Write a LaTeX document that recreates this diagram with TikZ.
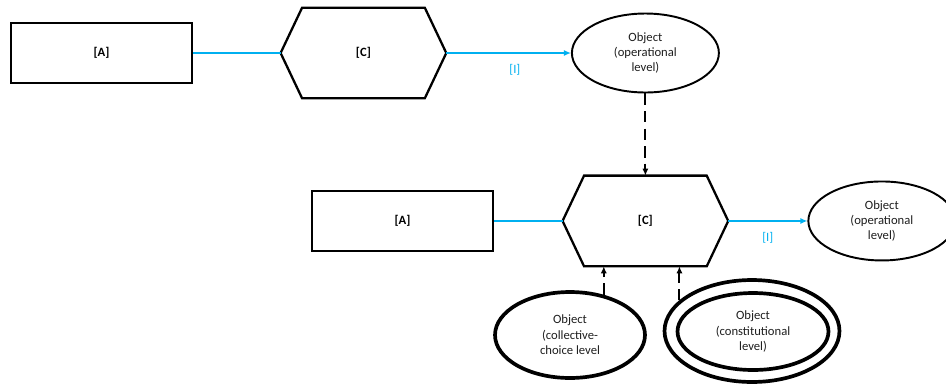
\documentclass[tikz,border=0pt]{standalone}
\usepackage{fontspec}
\setmainfont{Carlito}
\usepackage{xcolor}
\usepackage{tikz}
\usetikzlibrary{shapes.geometric, arrows.meta, positioning, calc}

\definecolor{linkblue}{RGB}{0,176,240}
\definecolor{objtext}{RGB}{30,30,30}

% hexagon outline drawn round a plain rectangle node
\newcommand{\hexoutline}[1]{%
  \draw[hexline] ($(#1.north west)+(21.5,0)$) -- ($(#1.north east)+(-21.5,0)$) -- (#1.east)
    -- ($(#1.south east)+(-21.5,0)$) -- ($(#1.south west)+(21.5,0)$) -- (#1.west) -- cycle;}

\begin{document}
\begin{tikzpicture}[x=0.02cm, y=-0.02cm, font=\fontsize{7.2pt}{8.8pt}\selectfont]
    \tikzstyle{actor} = [rectangle, draw, line width=1.3pt, minimum width=3.62cm, minimum height=1.2cm, font=\fontsize{7.2pt}{8.8pt}\selectfont\bfseries]
    \tikzstyle{hexcore} = [rectangle, minimum width=3.3cm, minimum height=1.8cm, font=\fontsize{7.2pt}{8.8pt}\selectfont\bfseries]
    \tikzstyle{hexline} = [draw, line width=1.3pt, line join=miter]
    \tikzstyle{object} = [ellipse, draw, line width=1.1pt, minimum width=2.94cm, minimum height=1.58cm, inner sep=0pt, align=center, text=objtext]
    \tikzstyle{heavyobject} = [object, line width=2.1pt]
    \tikzstyle{flow} = [draw, linkblue, line width=1.2pt]
    \tikzstyle{flowarrow} = [flow, -{Latex[length=4pt, width=3.5pt]}]
    \tikzstyle{ruleline} = [draw, line width=1.2pt, dash pattern=on 6.5pt off 3.5pt, -{Latex[length=4pt, width=3.5pt]}]
    \tikzstyle{tag} = [below=2.5pt, text=linkblue, font=\fontsize{7.2pt}{8.8pt}\selectfont]

    \useasboundingbox (0,0) rectangle (946,383);

    % operational situation
    \node [actor] at (101.5,53) (a1) {[A]};
    \node [hexcore, right of=a1, node distance=5.24cm] (c1) {[C]};
    \node [object, right of=c1, node distance=5.64cm] (e1) {Object\\(operational\\level)};
    \hexoutline{c1}

    % collective-choice situation
    \node [hexcore, below of=e1, node distance=3.36cm] (c2) {[C]};
    \node [actor, left of=c2, node distance=4.86cm] (a2) {[A]};
    \node [object, right of=c2, node distance=4.73cm] (e2) {Object\\(operational\\level)};
    \node [heavyobject, minimum width=3cm, minimum height=1.72cm] at (570,335) (e3) {Object\\(collective-\\choice level};
    \node [heavyobject, minimum width=3.5cm, minimum height=2.04cm] at (752,331) (e4o) {};
    \node [heavyobject, minimum width=3.02cm, minimum height=1.54cm] at (753,331.5) (e4) {Object\\(constitutional\\level)};
    \hexoutline{c2}

    \path [flow] (a1) -- (c1);
    \path [flowarrow] (c1) -- node [tag, pos=0.55] {[I]} (e1);
    \path [flow] (a2) -- (c2);
    \path [flowarrow] (c2) -- node [tag] {[I]} (e2);

    \path [ruleline] (e1.south) -- (c2.north);
    \path [ruleline] (e3.50) -- (e3.50 |- c2.south);
    \path [ruleline] (e4o.157) -- (e4o.157 |- c2.south);
\end{tikzpicture}
\end{document}
